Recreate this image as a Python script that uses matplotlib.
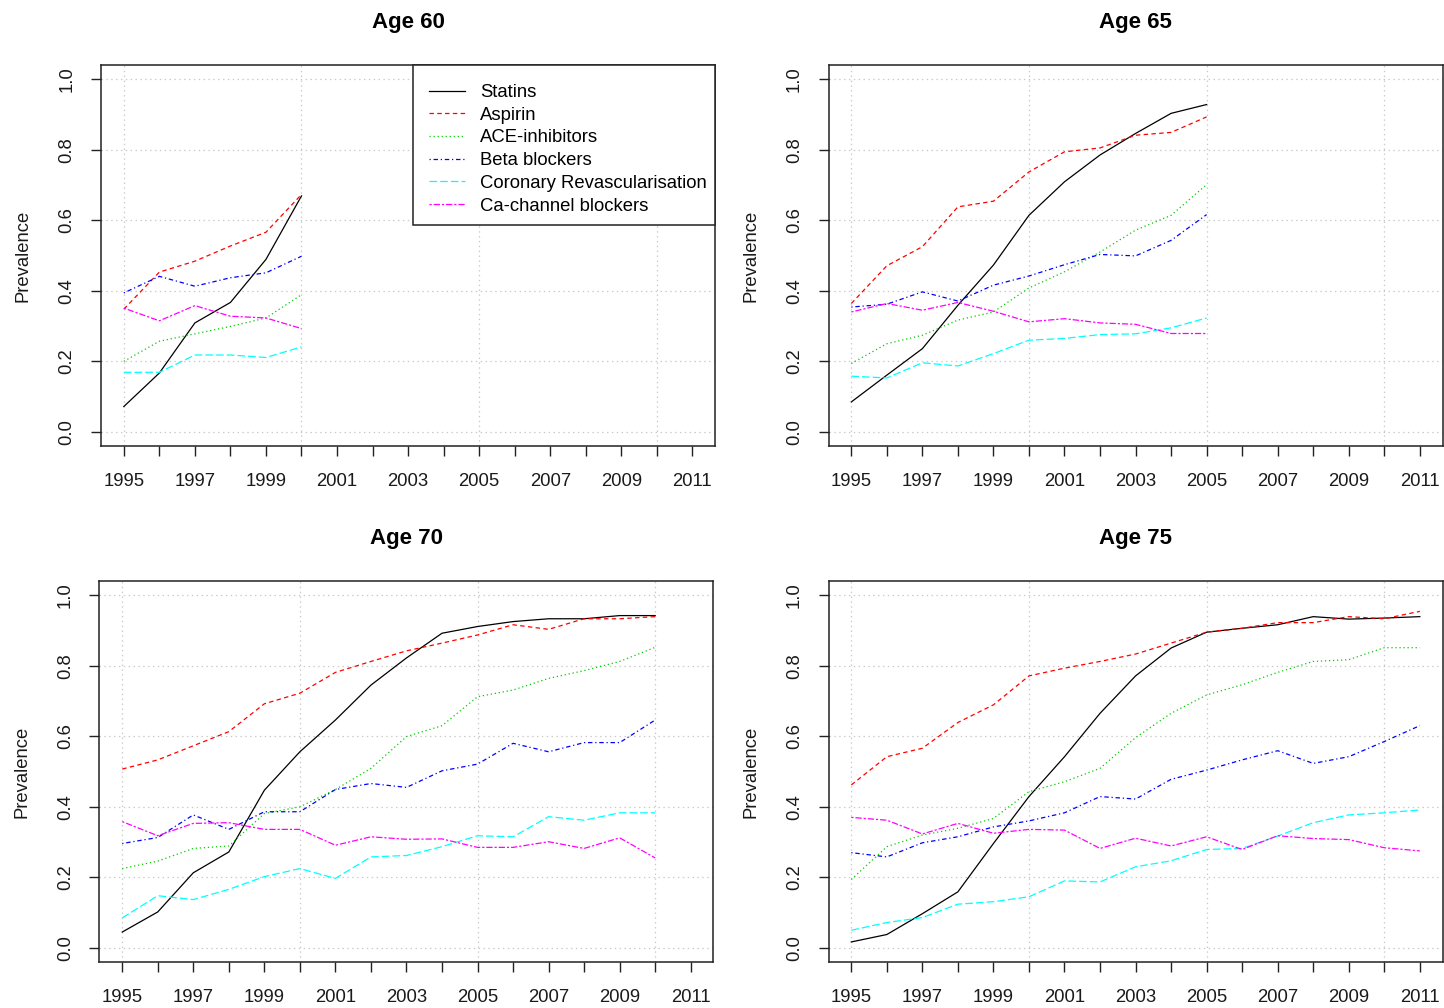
import numpy as np
import matplotlib
matplotlib.use('Agg')
import matplotlib.pyplot as plt
from matplotlib.patches import Rectangle
from matplotlib.transforms import ScaledTranslation

plt.rcParams['font.family'] = ['Liberation Sans', 'DejaVu Sans']
plt.rcParams['lines.scale_dashes'] = False

drugs = ['Statins', 'Aspirin', 'ACE-inhibitors', 'Beta blockers',
         'Coronary Revascularisation', 'Ca-channel blockers']
colors = ['black', '#FF0000', '#00CD00', '#0000FF', '#00FFFF', '#FF00FF']
styles = ['-', (0, (3.2, 2.4)), (0, (0.9, 2.0)), (0, (0.9, 2.0, 3.2, 2.0)),
          (0, (5.5, 2.2)), (0, (1.6, 1.4, 4.5, 1.4))]

years_60 = list(range(1995, 2001))
statins_60 = [0.072, 0.167, 0.309, 0.367, 0.489, 0.669]
aspirin_60 = [0.348, 0.453, 0.484, 0.527, 0.566, 0.673]
ace_60 = [0.200, 0.257, 0.278, 0.299, 0.323, 0.389]
beta_60 = [0.394, 0.441, 0.413, 0.437, 0.451, 0.498]
revasc_60 = [0.169, 0.169, 0.218, 0.218, 0.211, 0.241]
ca_60 = [0.351, 0.315, 0.358, 0.328, 0.323, 0.293]

years_65 = list(range(1995, 2006))
statins_65 = [0.085, 0.161, 0.236, 0.359, 0.473, 0.614, 0.709, 0.785, 0.846, 0.903, 0.928]
aspirin_65 = [0.364, 0.471, 0.525, 0.638, 0.654, 0.737, 0.794, 0.805, 0.841, 0.849, 0.893]
ace_65 = [0.194, 0.250, 0.274, 0.317, 0.340, 0.408, 0.454, 0.510, 0.572, 0.614, 0.701]
beta_65 = [0.354, 0.362, 0.397, 0.371, 0.416, 0.442, 0.474, 0.503, 0.499, 0.543, 0.616]
revasc_65 = [0.158, 0.153, 0.196, 0.187, 0.222, 0.260, 0.265, 0.276, 0.278, 0.295, 0.323]
ca_65 = [0.340, 0.364, 0.345, 0.367, 0.342, 0.312, 0.321, 0.309, 0.305, 0.279, 0.279]

years_70 = list(range(1995, 2011))
statins_70 = [0.045, 0.102, 0.213, 0.272, 0.447, 0.556, 0.646, 0.745, 0.822, 0.892,
              0.911, 0.925, 0.933, 0.933, 0.942, 0.942]
aspirin_70 = [0.507, 0.533, 0.573, 0.613, 0.692, 0.722, 0.781, 0.812, 0.842, 0.864,
              0.887, 0.916, 0.903, 0.933, 0.933, 0.939]
ace_70 = [0.225, 0.246, 0.282, 0.289, 0.381, 0.400, 0.449, 0.509, 0.599, 0.630,
          0.712, 0.731, 0.764, 0.786, 0.812, 0.852]
beta_70 = [0.296, 0.313, 0.377, 0.336, 0.386, 0.386, 0.449, 0.466, 0.455, 0.502,
           0.521, 0.580, 0.556, 0.582, 0.582, 0.646]
revasc_70 = [0.085, 0.148, 0.137, 0.166, 0.202, 0.225, 0.197, 0.258, 0.262, 0.287,
             0.318, 0.315, 0.372, 0.362, 0.383, 0.383]
ca_70 = [0.358, 0.318, 0.353, 0.355, 0.336, 0.336, 0.291, 0.315, 0.308, 0.309,
         0.285, 0.285, 0.301, 0.282, 0.312, 0.255]

years_75 = list(range(1995, 2012))
statins_75 = [0.017, 0.038, 0.097, 0.159, 0.296, 0.429, 0.542, 0.665, 0.771, 0.850,
              0.895, 0.906, 0.916, 0.939, 0.932, 0.935, 0.939]
aspirin_75 = [0.462, 0.542, 0.566, 0.639, 0.689, 0.771, 0.793, 0.812, 0.833, 0.864,
              0.895, 0.906, 0.922, 0.922, 0.939, 0.933, 0.954]
ace_75 = [0.194, 0.287, 0.320, 0.339, 0.367, 0.443, 0.471, 0.509, 0.596, 0.665,
          0.717, 0.746, 0.781, 0.812, 0.817, 0.851, 0.851]
beta_75 = [0.270, 0.258, 0.298, 0.315, 0.343, 0.360, 0.383, 0.429, 0.422, 0.478,
           0.504, 0.533, 0.559, 0.523, 0.542, 0.585, 0.630]
revasc_75 = [0.050, 0.072, 0.086, 0.124, 0.131, 0.145, 0.190, 0.187, 0.230, 0.247,
             0.279, 0.282, 0.317, 0.355, 0.377, 0.383, 0.391]
ca_75 = [0.370, 0.362, 0.323, 0.353, 0.325, 0.336, 0.334, 0.282, 0.311, 0.289,
         0.315, 0.279, 0.318, 0.310, 0.307, 0.284, 0.275]

panels = [
    ('Age 60', years_60, [statins_60, aspirin_60, ace_60, beta_60, revasc_60, ca_60]),
    ('Age 65', years_65, [statins_65, aspirin_65, ace_65, beta_65, revasc_65, ca_65]),
    ('Age 70', years_70, [statins_70, aspirin_70, ace_70, beta_70, revasc_70, ca_70]),
    ('Age 75', years_75, [statins_75, aspirin_75, ace_75, beta_75, revasc_75, ca_75]),
]

# axes rectangles in figure fractions (left, bottom, width, height)
rects = [(0.0700, 0.5575, 0.4252, 0.3780),
         (0.5738, 0.5575, 0.4252, 0.3780),
         (0.0689, 0.0456, 0.4252, 0.3780),
         (0.5738, 0.0456, 0.4252, 0.3780)]

fig = plt.figure(figsize=(14.44, 10.08), dpi=100)
fs = 13.3
axes = []
for i, (title, yrs, series) in enumerate(panels):
    ax = fig.add_axes(rects[i])
    axes.append(ax)
    for g in [1995, 2000, 2005, 2010]:
        ax.axvline(g, color='#C8C8C8', lw=0.9, ls=(0, (1, 2.5)), zorder=0)
    for g in np.arange(0, 1.01, 0.2):
        ax.axhline(g, color='#C8C8C8', lw=0.9, ls=(0, (1, 2.5)), zorder=0)
    for vals, name, c, s in zip(series, drugs, colors, styles):
        ax.plot(yrs, vals, color=c, ls=s, lw=0.9, label=name)
    ax.set_xlim(1995 - 0.64, 2011 + 0.64)
    ax.set_ylim(-0.04, 1.04)
    xt = list(range(1995, 2012))
    ax.set_xticks(xt)
    ax.set_xticklabels([str(y) if y % 2 == 1 else '' for y in xt])
    ax.set_yticks([0, 0.2, 0.4, 0.6, 0.8, 1.0])
    ax.set_yticklabels(['0.0', '0.2', '0.4', '0.6', '0.8', '1.0'], rotation=90, va='center')
    ax.tick_params(axis='both', direction='out', length=7.5, width=1.0,
                   labelsize=fs, color='#222222', labelcolor='#1a1a1a')
    ax.tick_params(axis='x', pad=12)
    ax.tick_params(axis='y', pad=11)
    for sp in ax.spines.values():
        sp.set_linewidth(1.1)
        sp.set_color('#222222')
    ax.set_ylabel('Prevalence', fontsize=fs, labelpad=19, color='#1a1a1a')
    ax.set_title(title, fontsize=16, fontweight='bold', pad=27)

# legend in the first panel, framed by hand (R style: wider left pad than right)
ax = axes[0]
off = ScaledTranslation(-8 / 100, -19 / 100, fig.dpi_scale_trans)
leg = ax.legend(loc='upper right', bbox_to_anchor=(1, 1),
                bbox_transform=ax.transAxes + off, borderaxespad=0, borderpad=0,
                fontsize=fs, frameon=False, handlelength=1.95,
                handletextpad=0.85, labelspacing=0.31)
leg.set_zorder(6)
fig.canvas.draw()
bb = leg.get_window_extent()
axbb = ax.get_window_extent()
x0, y0 = bb.x0 - 16, bb.y0 - 10
x1, y1 = axbb.x1, axbb.y1
inv = fig.transFigure.inverted()
(fx0, fy0), (fx1, fy1) = inv.transform([(x0, y0), (x1, y1)])
box = Rectangle((fx0, fy0), fx1 - fx0, fy1 - fy0, transform=fig.transFigure,
                facecolor='white', edgecolor='#222222', lw=1.1, zorder=5,
                clip_on=False)
ax.add_patch(box)

fig.savefig('out.png', dpi=100)
